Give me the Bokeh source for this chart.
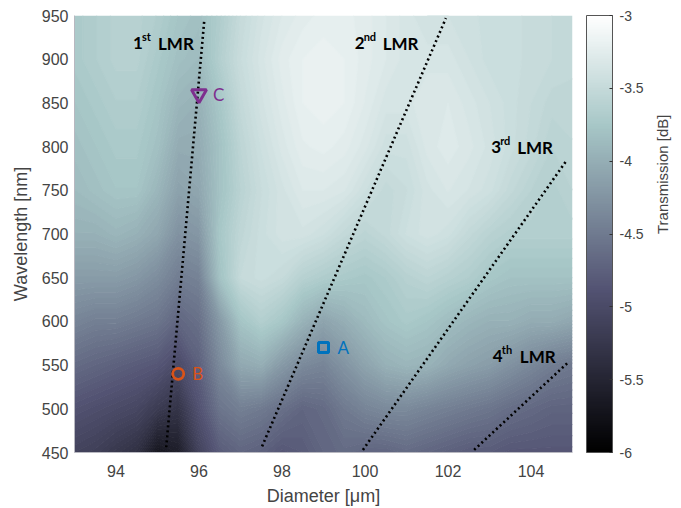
import numpy as np
from bokeh.plotting import figure
from bokeh.models import (LinearColorMapper, ColorBar, FixedTicker, CustomJSTickFormatter, LinearAxis)
from bokeh.embed import file_html
from bokeh.resources import INLINE
from bokeh.core.properties import value

# ---------------- data ----------------
diam_range = [93, 105]
wl_range = [450, 950]
# grid nodes of the transmission map: diameter (um) and wavelength (nm)
diam_nodes = [93, 93.5, 94, 94.5, 95, 95.5, 96, 96.5, 97, 97.5, 98, 98.5, 99, 99.5,
              100, 100.5, 101, 101.5, 102, 102.5, 103, 103.5, 104, 104.5, 105]
wl_nodes = [450, 500, 550, 600, 650, 700, 750, 800, 850, 900, 950]
# transmission [dB] at the nodes, one row per wavelength (bottom -> top)
T_450 = [-5.1, -5.15, -5.25, -5.35, -5.7, -5.6, -5.1, -4.8, -4.7, -4.75, -4.85, -4.8, -4.7, -4.65, -4.7, -4.7, -4.65, -4.7, -4.75, -4.8, -4.8, -4.85, -4.85, -4.85, -4.85]
T_500 = [-4.9, -4.95, -5.0, -5.05, -5.2, -5.3, -4.9, -4.55, -4.45, -4.5, -4.6, -4.7, -4.65, -4.5, -4.4, -4.35, -4.35, -4.4, -4.45, -4.5, -4.55, -4.62, -4.67, -4.72, -4.72]
T_550 = [-4.65, -4.7, -4.75, -4.8, -4.85, -5.0, -4.75, -4.35, -4.05, -4.0, -4.2, -4.35, -4.4, -4.25, -4.1, -3.97, -3.92, -3.95, -4.05, -4.12, -4.17, -4.27, -4.37, -4.47, -4.52]
T_600 = [-4.4, -4.45, -4.45, -4.5, -4.55, -4.7, -4.6, -4.2, -3.78, -3.65, -3.75, -3.95, -4.1, -4.0, -3.88, -3.78, -3.72, -3.77, -3.85, -3.92, -3.97, -3.97, -4.02, -4.02, -4.07]
T_650 = [-4.17, -4.17, -4.17, -4.22, -4.32, -4.47, -4.42, -3.8, -3.5, -3.45, -3.5, -3.62, -3.68, -3.72, -3.75, -3.7, -3.62, -3.57, -3.62, -3.67, -3.75, -3.8, -3.8, -3.8, -3.8]
T_700 = [-3.97, -3.97, -3.92, -3.97, -4.07, -4.27, -4.22, -3.75, -3.55, -3.45, -3.38, -3.38, -3.43, -3.52, -3.58, -3.52, -3.43, -3.38, -3.42, -3.52, -3.6, -3.65, -3.65, -3.65, -3.65]
T_750 = [-3.87, -3.82, -3.77, -3.77, -3.92, -4.12, -4.07, -3.8, -3.6, -3.47, -3.38, -3.3, -3.3, -3.33, -3.43, -3.52, -3.47, -3.38, -3.33, -3.37, -3.42, -3.52, -3.6, -3.65, -3.6]
T_800 = [-3.82, -3.77, -3.72, -3.72, -3.82, -4.02, -4.02, -3.8, -3.57, -3.43, -3.32, -3.24, -3.22, -3.25, -3.32, -3.42, -3.42, -3.32, -3.28, -3.32, -3.38, -3.45, -3.52, -3.6, -3.57]
T_850 = [-3.77, -3.72, -3.67, -3.67, -3.77, -3.92, -3.97, -3.75, -3.52, -3.38, -3.28, -3.2, -3.18, -3.2, -3.27, -3.35, -3.35, -3.3, -3.3, -3.35, -3.4, -3.45, -3.5, -3.55, -3.55]
T_900 = [-3.72, -3.67, -3.62, -3.62, -3.72, -3.82, -3.87, -3.65, -3.47, -3.35, -3.25, -3.2, -3.18, -3.2, -3.25, -3.3, -3.35, -3.35, -3.35, -3.4, -3.45, -3.45, -3.48, -3.5, -3.52]
T_950 = [-3.72, -3.67, -3.62, -3.62, -3.67, -3.77, -3.82, -3.68, -3.5, -3.38, -3.3, -3.25, -3.22, -3.22, -3.25, -3.3, -3.35, -3.4, -3.4, -3.42, -3.45, -3.45, -3.48, -3.5, -3.52]
T_rows = [T_450, T_500, T_550, T_600, T_650, T_700, T_750, T_800, T_850, T_900, T_950]

T_low, T_high = -6.0, -3.0
cbar_ticks = [-6, -5.5, -5, -4.5, -4, -3.5, -3]
x_ticks = [94, 96, 98, 100, 102, 104]
y_ticks = [450, 500, 550, 600, 650, 700, 750, 800, 850, 900, 950]

# LMR resonance traces (diameter, wavelength)
lmr_x = [[95.21, 96.13], [97.52, 101.95], [99.95, 104.87], [102.63, 104.87]]
lmr_y = [[456, 946], [457, 947], [453, 785], [453, 552]]
lmr_num = ["1", "2", "3", "4"]
lmr_sup = ["st", "nd", "rd", "th"]
lmr_lab_x = [94.41, 99.75, 103.04, 103.08]
lmr_lab_y = [918, 918, 799, 560]

# marked points
pt_name = ["A", "B", "C"]
pt_x = [99.0, 95.5, 96.0]
pt_y = [570, 540, 860]

# ---------------- colormap (MATLAB bone) ----------------
def bone_rgb(t):
    t = np.asarray(t, dtype=float)
    hr = np.clip(t / 0.375, 0, 1)
    hg = np.clip((t - 0.375) / 0.375, 0, 1)
    hb = np.clip((t - 0.75) / 0.25, 0, 1)
    return (7 * t + hb) / 8, (7 * t + hg) / 8, (7 * t + hr) / 8

def to_hex(r, g, b):
    return ["#%02x%02x%02x" % (int(round(a * 255)), int(round(c * 255)), int(round(d * 255)))
            for a, c, d in zip(r, g, b)]

bone = to_hex(*bone_rgb(np.linspace(0, 1, 256)))
mapper = LinearColorMapper(palette=bone, low=T_low, high=T_high)

# contour levels for smooth shading of the map
levels = np.linspace(T_low, T_high, 91)
mid = (levels[:-1] + levels[1:]) / 2
band_colors = to_hex(*bone_rgb((mid - T_low) / (T_high - T_low)))
level_colors = to_hex(*bone_rgb((levels - T_low) / (T_high - T_low)))

# ---------------- figure ----------------
p = figure(frame_width=498, frame_height=437, x_range=tuple(diam_range), y_range=tuple(wl_range),
           output_backend="svg", toolbar_location=None,
           min_border_left=74, min_border_top=15, min_border_bottom=48, min_border_right=20)
p.background_fill_color = "white"
p.border_fill_color = "white"
p.outline_line_color = None
p.grid.visible = False

Z = np.array(T_rows)
p.contour(x=np.array(diam_nodes), y=np.array(wl_nodes), z=Z, levels=levels,
          fill_color=band_colors, line_color=level_colors, line_width=1.2)

p.multi_line(xs=lmr_x, ys=lmr_y, line_color="black", line_width=2.6, line_dash="2 3", line_cap="butt")

# markers
p.scatter([pt_x[0]], [pt_y[0]], marker="square", size=10, fill_color=None, line_color="#0072BD", line_width=3)
p.scatter([pt_x[1]], [pt_y[1]], marker="circle", size=11, fill_color=None, line_color="#D95319", line_width=2.8)
p.scatter([pt_x[2]], [pt_y[2]], marker="inverted_triangle", size=15, fill_color=None, line_color="#7E2F8E", line_width=3)
p.text(x=pt_x, y=pt_y, text=pt_name, text_color=["#0072BD", "#D95319", "#7E2F8E"],
       text_font=value("Lato"), text_font_size="17px", text_baseline="middle", text_align="left", x_offset=14)

# LMR labels
p.text(x=lmr_lab_x, y=lmr_lab_y, text=lmr_num, text_font=value("Lato"), text_font_style="bold",
       text_font_size="17px", text_color="black", text_baseline="alphabetic", text_align="left")
p.text(x=lmr_lab_x, y=lmr_lab_y, text=lmr_sup, text_font=value("Lato"), text_font_style="bold",
       text_font_size="11px", text_color="black", text_baseline="alphabetic", text_align="left",
       x_offset=9, y_offset=-7)
p.text(x=lmr_lab_x, y=lmr_lab_y, text=["LMR"] * 4, text_font=value("Lato"), text_font_style="bold",
       text_font_size="17px", text_color="black", text_baseline="alphabetic", text_align="left",
       x_offset=[25, 28, 26, 27])

# axes
p.xaxis.ticker = FixedTicker(ticks=x_ticks)
p.yaxis.ticker = FixedTicker(ticks=y_ticks)
for ax in (p.xaxis[0], p.yaxis[0]):
    ax.major_tick_out = 0
    ax.major_tick_in = 0
    ax.minor_tick_out = 0
    ax.minor_tick_in = 0
    ax.axis_line_color = "#b8b8c0"
    ax.major_label_text_font = "Liberation Sans"
    ax.major_label_text_font_size = "16px"
    ax.major_label_text_color = "#444444"
    ax.axis_label_text_font = "Liberation Sans"
    ax.axis_label_text_font_size = "18px"
    ax.axis_label_text_font_style = "normal"
    ax.axis_label_text_color = "#444444"
p.xaxis.axis_label = "Diameter [μm]"
p.yaxis.axis_label = "Wavelength [nm]"
p.xaxis.major_label_standoff = 12
p.yaxis.major_label_standoff = 6
p.xaxis.axis_label_standoff = 6
p.yaxis.axis_label_standoff = 8

cb = ColorBar(color_mapper=mapper, ticker=FixedTicker(ticks=cbar_ticks),
              formatter=CustomJSTickFormatter(code="return tick.toString()"),
              width=26, padding=0, margin=0, location=(14, 0),
              bar_line_color="#555555", bar_line_width=1,
              major_tick_in=3, major_tick_out=0, major_tick_line_color="#333333",
              major_label_text_font="Liberation Sans", major_label_text_font_size="14px",
              major_label_text_color="#444444", label_standoff=7,
              background_fill_color=None, border_line_color=None)
p.add_layout(cb, "right")

# colour-bar title as an empty right axis (its invisible extent positions the title)
cax = LinearAxis(ticker=FixedTicker(ticks=[]), axis_label="Transmission [dB]",
                 axis_line_color=None, major_tick_line_color=None, minor_tick_line_color=None,
                 axis_label_text_font="Liberation Sans", axis_label_text_font_size="15px",
                 axis_label_text_font_style="normal", axis_label_text_color="#444444",
                 axis_label_standoff=16, bounds=(450, 809))
try:
    cax.axis_label_orientation = np.pi / 2
except Exception:
    pass
p.add_layout(cax, "right")

open("out.html", "w").write(file_html(p, INLINE))
